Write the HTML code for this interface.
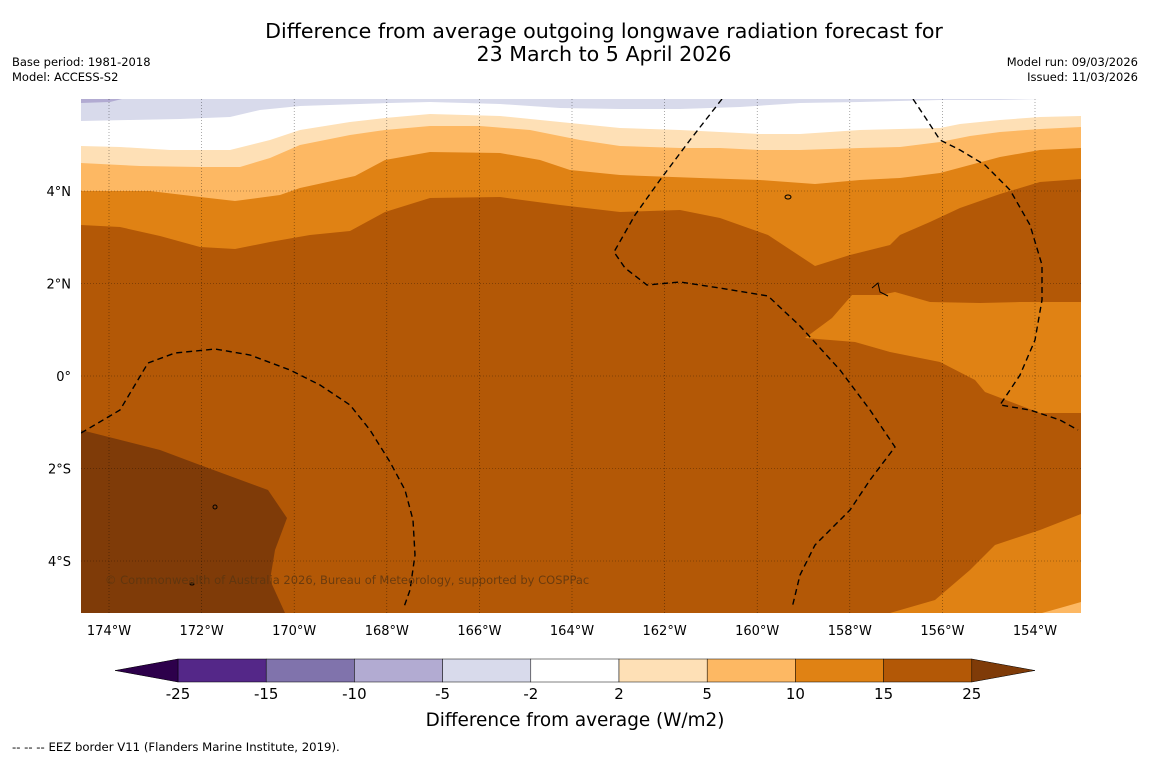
<!DOCTYPE html>
<html><head><meta charset="utf-8">
<style>
body{margin:0;background:#fff;font-family:"Liberation Sans",sans-serif;}
svg{display:block}
text{font-family:"DejaVu Sans","Liberation Sans",sans-serif;}
</style></head>
<body>
<svg width="1150" height="758" viewBox="0 0 1150 758">
<rect width="1150" height="758" fill="#fff"/>
<text x="604" y="38" text-anchor="middle" font-size="20.6">Difference from average outgoing longwave radiation forecast for</text>
<text x="604" y="61" text-anchor="middle" font-size="20.6">23 March to 5 April 2026</text>
<text x="12" y="66" font-size="11.5">Base period: 1981-2018</text>
<text x="12" y="81" font-size="11.5">Model: ACCESS-S2</text>
<text x="1138" y="66" font-size="11.5" text-anchor="end">Model run: 09/03/2026</text>
<text x="1138" y="81" font-size="11.5" text-anchor="end">Issued: 11/03/2026</text>

<defs><clipPath id="mc"><rect x="81" y="99" width="1000" height="514"/></clipPath></defs>
<g clip-path="url(#mc)">
<rect x="81" y="99" width="1000" height="514" fill="#b35806"/>
<path fill="#7f3b08" d="M81,430 L160,450 L200,465 L268,490 L287,518 L275,550 L270,580 L285,613 L81,613Z"/>
<path fill="#e08214" d="M81,225 L120,227 L160,236 L200,247 L235,249 L270,242 L310,235 L350,231 L385,212 L430,198 L500,197 L560,205 L620,212 L680,210 L720,218 L768,235 L815,266 L850,255 L890,245 L900,235 L930,222 L960,208 L1000,194 L1040,182 L1081,179 L1081,99 L81,99Z"/>
<path fill="#e08214" d="M1081,302 L1020,302 L980,303 L930,302 L895,292 L880,295 L852,295 L832,318 L805,338 L855,342 L890,352 L940,362 L975,380 L985,392 L1040,413 L1081,413Z"/>
<path fill="#e08214" d="M1081,514 L1040,530 L995,545 L970,570 L935,600 L890,613 L1081,613Z"/>
<path fill="#fdb863" d="M81,191 L150,191 L200,197 L235,201 L280,195 L300,188 L355,176 L385,160 L430,152 L500,153 L540,160 L570,170 L620,175 L700,178 L760,180 L815,184 L860,180 L900,178 L940,173 L1000,157 L1040,150 L1081,148 L1081,99 L81,99Z"/>
<path fill="#fdb863" d="M1081,602 L1060,608 L1042,613 L1081,613Z"/>
<path fill="#fee0b6" d="M81,163 L140,166 L200,167 L240,167 L270,158 L300,145 L350,135 L385,130 L430,126 L480,126 L530,130 L580,140 L620,146 L680,148 L720,148 L760,150 L800,150 L860,148 L900,147 L940,142 L970,136 L1000,132 L1040,129 L1081,127 L1081,99 L81,99Z"/>
<path fill="#ffffff" d="M81,146 L120,147 L170,150 L230,150 L270,140 L300,130 L350,122 L385,118 L430,114 L500,116 L560,122 L620,128 L680,130 L760,134 L800,134 L860,130 L940,128 L960,124 L1000,120 L1040,117 L1081,116 L1081,99 L81,99Z"/>
<path fill="#d8daeb" d="M81,121 L130,120 L180,119 L230,117 L260,110 L300,106 L390,103 L430,102 L500,104 L560,108 L620,109 L680,109 L740,107 L800,103 L860,102 L940,100 L1000,100 L1040,99 L1081,99 L81,99Z"/>
<path fill="#b2abd2" d="M81,99 L122,99 L110,102 L81,103Z"/>
<g id="grid" stroke="#000" stroke-width="0.6" stroke-dasharray="1,2" opacity="0.55"></g>
<g fill="none" stroke="#000" stroke-width="1.4" stroke-dasharray="6,4">
<path d="M81,433 L120,410 L148,363 L175,353 L215,349 L250,355 L290,370 L320,385 L350,405 L370,430 L390,462 L405,490 L413,520 L415,555 L410,590 L404,607"/>
<path d="M722,99 L690,140 L660,180 L635,215 L614,252 L625,268 L647,285 L680,282 L720,288 L768,296 L800,326 L840,370 L870,410 L895,447 L870,480 L850,510 L815,545 L800,575 L792,608"/>
<path d="M913,99 L925,117 L940,140 L960,150 L985,165 L1010,190 L1030,225 L1042,265 L1042,300 L1035,340 L1020,375 L1000,405 L1030,410 L1060,420 L1078,430"/>
</g>
<g fill="none" stroke="#000" stroke-width="1">
<ellipse cx="788" cy="197" rx="3" ry="2"/><path d="M872,288 L878,283 L880,292 L888,296"/><ellipse cx="215" cy="507" rx="2" ry="2"/><ellipse cx="192" cy="584" rx="2" ry="1"/>
</g>
<text x="105" y="584" font-size="11.5" fill="#5a3510" opacity="0.8">© Commonwealth of Australia 2026, Bureau of Meteorology, supported by COSPPac</text>
</g>
<g id="axes"></g>
<g id="cbar"></g>
<text x="575" y="726" text-anchor="middle" font-size="18.4">Difference from average (W/m2)</text>
<text x="12" y="751" font-size="11.7">--  --  -- EEZ border V11 (Flanders Marine Institute, 2019).</text>
</svg>
<script>
const NS="http://www.w3.org/2000/svg";
const lonTicks=[174,172,170,168,166,164,162,160,158,156,154];
const latTicks=[4,2,0,-2,-4];
const levels=[-25,-15,-10,-5,-2,2,5,10,15,25];
const levelColors=["#542788","#8073ac","#b2abd2","#d8daeb","#ffffff","#fee0b6","#fdb863","#e08214","#b35806"];
const lowColor="#2d004b", highColor="#7f3b08";
const xOf=lon=>109+(174-lon)*46.3;
const yOf=lat=>376-lat*46.25;
const grid=document.getElementById('grid'), axes=document.getElementById('axes'), cbar=document.getElementById('cbar');
function mk(tag,attrs,parent){const e=document.createElementNS(NS,tag);for(const k in attrs)e.setAttribute(k,attrs[k]);parent.appendChild(e);return e;}
lonTicks.forEach(l=>{
  const x=xOf(l);
  const g=mk('line',{x1:x,x2:x,y1:99,y2:613},grid);
  
  
  const t=mk('text',{x:x,y:635,'text-anchor':'middle','font-size':'13'},axes);
  t.textContent=l+'°W';
  
  
});
latTicks.forEach(l=>{
  const y=yOf(l);
  const g=mk('line',{x1:81,x2:1081,y1:y,y2:y},grid);
  
  
  const t=mk('text',{x:71,y:y+5,'text-anchor':'end','font-size':'13'},axes);
  t.textContent=l===0?'0°':(Math.abs(l)+'°'+(l>0?'N':'S'));
  
  
});
const cx0=178,cw=88.2,cy=659,ch=23;
levelColors.forEach((c,i)=>{
  const r=mk('rect',{x:cx0+i*cw,y:cy,width:cw,height:ch,fill:c,stroke:'#000','stroke-width':0.5},cbar);
  
  
});
const xe=cx0+levelColors.length*cw;
const lt=mk('polygon',{points:`${cx0},${cy} 115,${cy+ch/2} ${cx0},${cy+ch}`,fill:lowColor,stroke:'#000','stroke-width':0.5},cbar);


const ht=mk('polygon',{points:`${xe},${cy} 1035,${cy+ch/2} ${xe},${cy+ch}`,fill:highColor,stroke:'#000','stroke-width':0.5},cbar);


levels.forEach((v,i)=>{
  const t=mk('text',{x:cx0+i*cw,y:699,'text-anchor':'middle','font-size':'15'},cbar);
  t.textContent=v;
  
  
});
</script>
</body></html>
